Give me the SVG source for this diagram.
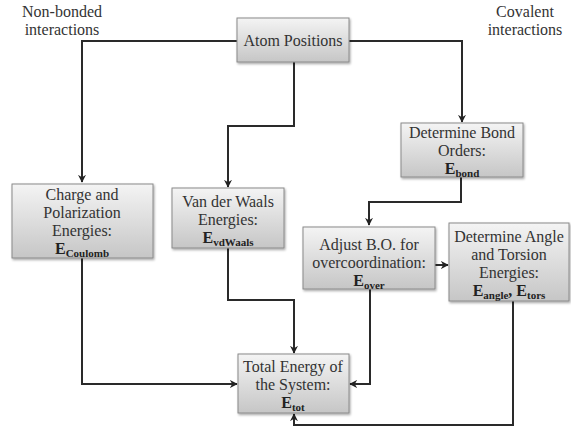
<svg xmlns="http://www.w3.org/2000/svg" width="571" height="427" viewBox="0 0 571 427">
<defs>
<linearGradient id="g" x1="0" y1="0" x2="0" y2="1">
<stop offset="0" stop-color="#f4f4f4"/>
<stop offset="1" stop-color="#c6c6c6"/>
</linearGradient>
<filter id="sh" x="-10%" y="-10%" width="125%" height="130%">
<feDropShadow dx="1" dy="1.5" stdDeviation="1.2" flood-color="#000" flood-opacity="0.35"/>
</filter>
<marker id="ah" viewBox="0 0 10 10" refX="9" refY="5" markerWidth="4" markerHeight="4" orient="auto-start-reverse" markerUnits="strokeWidth">
<path d="M0,0 L10,5 L0,10 L3,5 z" fill="#222"/>
</marker>
</defs>
<style>
.box{fill:url(#g);stroke:#8a8a8a;stroke-width:1;filter:url(#sh)}
.t{font-family:"Liberation Serif","DejaVu Serif",serif;font-size:16px;fill:#333;text-anchor:middle}
.b{font-weight:bold;fill:#222}
.s{font-size:11px;font-weight:bold}
.c{fill:none;stroke:#2a2a2a;stroke-width:2}
.a{marker-end:url(#ah)}
</style>
<rect width="571" height="427" fill="#fff"/>
<g id="labels">
<text class="t" x="62" y="17">Non-bonded</text>
<text class="t" x="62" y="35">interactions</text>
<text class="t" x="525" y="17">Covalent</text>
<text class="t" x="525" y="35">interactions</text>
</g>
<g id="connectors">
<path class="c a" d="M237,41 H82 V182"/>
<path class="c a" d="M294,62 V126 H228 V187"/>
<path class="c a" d="M349,41 H462 V122"/>
<path class="c a" d="M461,177 V202 H369 V225"/>
<path class="c a" d="M435,265 H448"/>
<path class="c a" d="M82,258 V384 H237"/>
<path class="c a" d="M228,248 V300 H294 V353"/>
<path class="c a" d="M370,289 V384 H350"/>
<path class="c a" d="M513,301 V425 H294 V414"/>
</g>
<g id="atom">
<rect class="box" x="237" y="18" width="112" height="44"/>
<text class="t" x="293" y="46">Atom Positions</text>
</g>
<g id="charge">
<rect class="box" x="12" y="184" width="141" height="74"/>
<text class="t" x="82" y="200">Charge and</text>
<text class="t" x="82" y="218">Polarization</text>
<text class="t" x="82" y="236">Energies:</text>
<text class="t b" x="82" y="254">E<tspan class="s" dy="3">Coulomb</tspan></text>
</g>
<g id="vdw">
<rect class="box" x="172" y="188" width="112" height="60"/>
<text class="t" x="228" y="207">Van der Waals</text>
<text class="t" x="228" y="225">Energies:</text>
<text class="t b" x="228" y="243">E<tspan class="s" dy="3">vdWaals</tspan></text>
</g>
<g id="bond">
<rect class="box" x="401" y="123" width="122" height="54"/>
<text class="t" x="462" y="138">Determine Bond</text>
<text class="t" x="462" y="156">Orders:</text>
<text class="t b" x="462" y="174">E<tspan class="s" dy="3">bond</tspan></text>
</g>
<g id="adjust">
<rect class="box" x="303" y="227" width="132" height="62"/>
<text class="t" x="369" y="250">Adjust B.O. for</text>
<text class="t" x="369" y="268">overcoordination:</text>
<text class="t b" x="369" y="286">E<tspan class="s" dy="3">over</tspan></text>
</g>
<g id="angle">
<rect class="box" x="449" y="223" width="120" height="78"/>
<text class="t" x="509" y="242">Determine Angle</text>
<text class="t" x="509" y="260">and Torsion</text>
<text class="t" x="509" y="278">Energies:</text>
<text class="t b" x="509" y="296">E<tspan class="s" dy="3">angle</tspan><tspan dy="-3">, E</tspan><tspan class="s" dy="3">tors</tspan></text>
</g>
<g id="total">
<rect class="box" x="238" y="354" width="111" height="59"/>
<text class="t" x="293" y="372">Total Energy of</text>
<text class="t" x="293" y="390">the System:</text>
<text class="t b" x="293" y="408">E<tspan class="s" dy="3">tot</tspan></text>
</g>
</svg>
